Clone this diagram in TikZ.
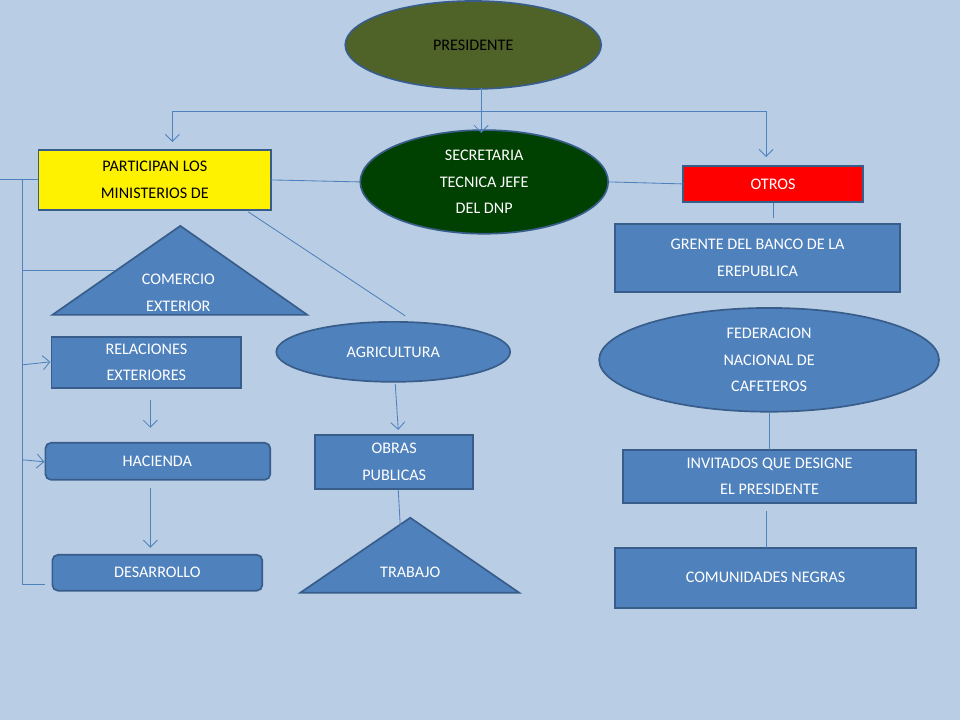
\documentclass[tikz,border=0pt]{standalone}
\usepackage{fontspec}
\setmainfont{Carlito}
\usetikzlibrary{shapes.geometric, arrows.meta}
\definecolor{bg}{RGB}{185,205,228}
\definecolor{boxblue}{RGB}{79,129,189}
\definecolor{edgeblue}{RGB}{56,93,138}
\definecolor{olive}{RGB}{79,98,40}
\definecolor{darkgr}{RGB}{0,64,0}
\tikzset{>={Straight Barb[length=5pt]}}
\begin{document}
\begin{tikzpicture}[x=0.025cm, y=-0.025cm,
    every node/.style={font=\fontsize{11.5}{19}\selectfont, align=center, text=white},
    bluebox/.style={draw=edgeblue, line width=1.2pt, fill=boxblue},
    blueell/.style={ellipse, draw=edgeblue, line width=1.2pt, fill=boxblue},
    link/.style={draw=boxblue, line width=0.6pt}]
   \fill[bg] (0,0) rectangle (960,720);

   % top row
   \node[blueell, fill=olive, text=black, minimum width=256*0.025cm, minimum height=88*0.025cm] (pres) at (473,45) {PRESIDENTE};
   \node[blueell, fill=darkgr, minimum width=248*0.025cm, minimum height=96*0.025cm] (secr) at (484,182) {SECRETARIA\\TECNICA JEFE\\DEL DNP};
   \draw[bluebox, fill=yellow] (38,150) rectangle (271,210);
   \node[text=black] (part) at (154.5,180) {PARTICIPAN LOS\\MINISTERIOS DE};
   \draw[bluebox, fill=red] (683,166) rectangle (863,202);
   \node (otros) at (773,184) {OTROS};

   % left column
   \draw[bluebox] (180,226) -- (307,315) -- (52,315) -- cycle;
   \node (come) at (178,293) {COMERCIO\\EXTERIOR};
   \draw[bluebox] (51,337) rectangle (241,388);
   \node (rela) at (146,362.5) {RELACIONES\\EXTERIORES};
   \draw[bluebox, rounded corners=4pt] (45,443) rectangle (270,480);
   \node (haci) at (157,461.5) {HACIENDA};
   \draw[bluebox, rounded corners=4pt] (52,555) rectangle (262,591);
   \node (desa) at (157,573) {DESARROLLO};

   % middle column
   \node[blueell, minimum width=234*0.025cm, minimum height=60*0.025cm] (agri) at (393,352) {AGRICULTURA};
   \draw[bluebox] (315,435) rectangle (473,489);
   \node (obra) at (394,462) {OBRAS\\PUBLICAS};
   \draw[bluebox] (410,518) -- (519,593) -- (300,593) -- cycle;
   \node (trab) at (410,573) {TRABAJO};

   % right column
   \draw[bluebox] (615,224) rectangle (900,292);
   \node (gren) at (757.5,258) {GRENTE DEL BANCO DE LA\\EREPUBLICA};
   \node[blueell, minimum width=340*0.025cm, minimum height=90*0.025cm] (fede) at (769,360) {FEDERACION\\NACIONAL DE\\CAFETEROS};
   \draw[bluebox] (623,450) rectangle (916,503);
   \node (invi) at (769.5,476.5) {INVITADOS QUE DESIGNE\\EL PRESIDENTE};
   \draw[bluebox] (615,548) rectangle (916,608);
   \node (comu) at (765.5,578) {COMUNIDADES NEGRAS};

   % connectors
   \draw[link, ->] (481,88) -- (481,133);
   \draw[link] (172,111) -- (766,111);
   \draw[link, ->] (172,111) -- (172,142);
   \draw[link, ->] (766,111) -- (766,157);
   \draw[link] (0,180) -- (38,180);
   \draw[link] (22,180) -- (22,585) -- (45,585);
   \draw[link] (22,271) -- (115,271);
   \draw[link, ->] (22,365) -- (50,362);
   \draw[link, ->] (22,460) -- (44,462);
   \draw[link] (271,180) -- (secr.west);
   \draw[link] (secr.east) -- (683,184);
   \draw[link] (773,203) -- (773,218);
   \draw[link] (248,212) -- (405,316);
   \draw[link, ->] (150,400) -- (150,428);
   \draw[link, ->] (150,488) -- (150,548);
   \draw[link, ->] (395,384) -- (398,430);
   \draw[link] (398,490) -- (400,526);
   \draw[link] (fede.south) -- (769,450);
   \draw[link] (766,511) -- (766,548);
\end{tikzpicture}
\end{document}
